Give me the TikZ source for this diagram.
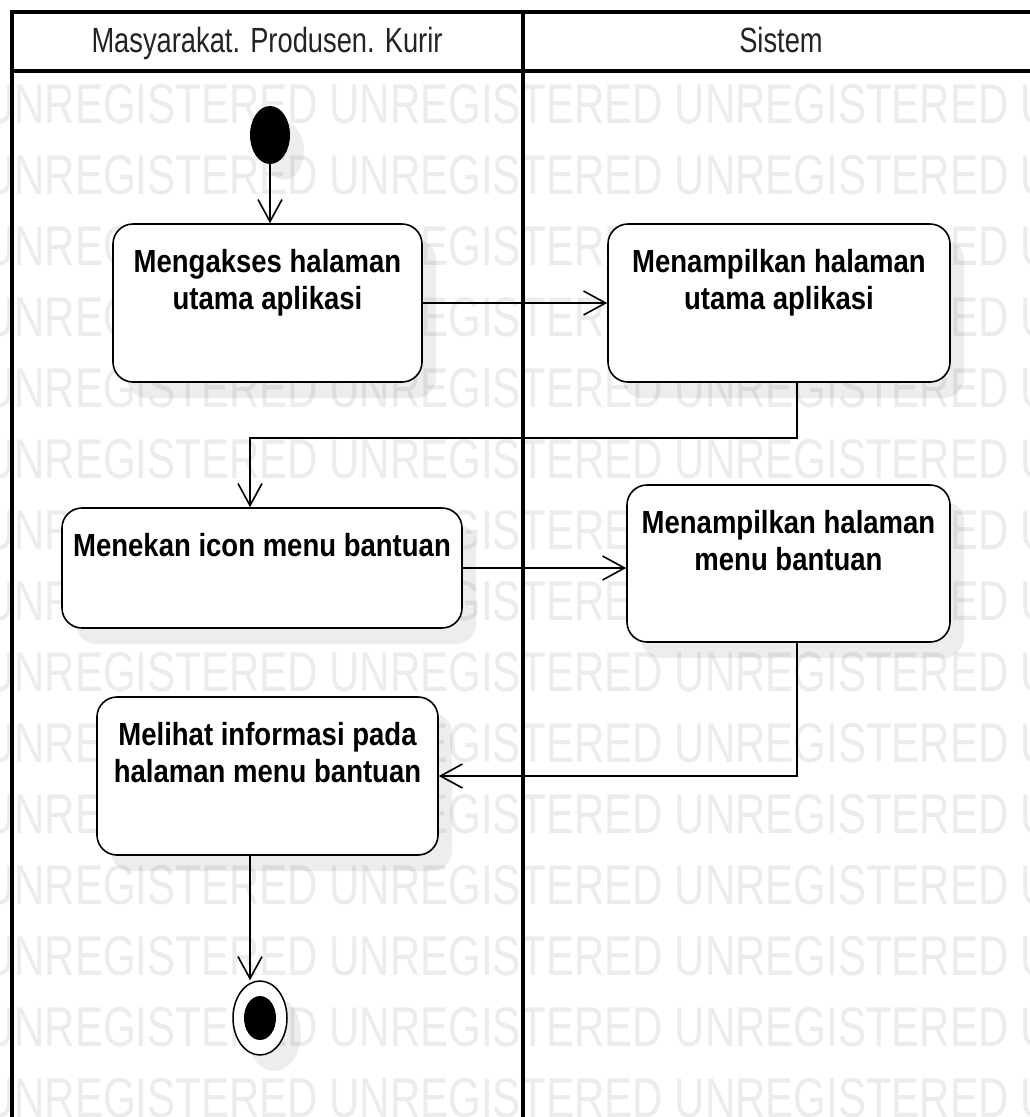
\documentclass[tikz,border=0pt]{standalone}
\usepackage{fontspec}
\setmainfont{Liberation Sans}
\newfontfamily\hdrfont{Liberation Sans}[FakeStretch=0.78]
\newfontfamily\boxfont{Liberation Sans}[FakeStretch=0.86]
\newfontfamily\wmfont{Liberation Sans}[FakeStretch=0.75]
\usetikzlibrary{arrows.meta,shapes.geometric,shadows}
\definecolor{wmgray}{RGB}{236,236,236}
\definecolor{hdrtext}{RGB}{35,35,35}
\begin{document}
\begin{tikzpicture}[x=1pt,y=-1pt,
  softshadow/.style={drop shadow={shadow xshift=14pt, shadow yshift=-16pt, opacity=0.07, fill=black}},
  act/.style={draw=black, line width=1.6pt, fill=white, rounded corners=20pt, inner sep=0pt, softshadow},
  acttext/.style={font=\boxfont\bfseries\fontsize{32}{37}\selectfont, align=center, inner sep=0pt, anchor=north},
  hdr/.style={font=\hdrfont\fontsize{35}{40}\selectfont, text=hdrtext, inner sep=0pt, anchor=base},
  wm/.style={font=\wmfont\fontsize{56}{60}\selectfont, text=wmgray, inner sep=0pt, anchor=base west},
  flow/.style={line width=1.6pt, -{Straight Barb[length=22pt,width=24pt,line width=1.6pt]}},
  frame/.style={line width=4pt, line cap=rect}
]
\useasboundingbox (0,0) rectangle (1030,1117);
\clip (0,0) rectangle (1030,1117);
\fill[white] (0,0) rectangle (1030,1117);

% watermark rows
\foreach \i in {0,...,14}{
  \node[wm] (wm\i) at (-16,{123+71*\i}) {UNREGISTERED UNREGISTERED UNREGISTERED U};
}

% swimlane frame
\fill[white] (12,12) rectangle (1060,71);
\draw[frame] (12,1150) -- (12,12) -- (1060,12);
\draw[frame] (12,71) -- (1060,71);
\draw[frame] (523,12) -- (523,1150);
\node[hdr] (lane1) at (267,52) {Masyarakat. Produsen. Kurir};
\node[hdr] (lane2) at (781,52) {Sistem};

% initial node
\node[ellipse, fill=black, minimum width=40pt, minimum height=58pt, inner sep=0pt, softshadow] (start) at (270,135) {};

% activities
\node[act, minimum width=309pt, minimum height=158pt] (b1) at (267.5,303) {};
\node[acttext] (b1t) at ([yshift=-26pt]b1.north) {Mengakses halaman\\utama aplikasi};

\node[act, minimum width=342pt, minimum height=158pt] (b2) at (779,303) {};
\node[acttext] (b2t) at ([yshift=-26pt]b2.north) {Menampilkan halaman\\utama aplikasi};

\node[act, minimum width=400pt, minimum height=120pt] (b3) at (262,568) {};
\node[acttext] (b3t) at ([yshift=-26pt]b3.north) {Menekan icon menu bantuan};

\node[act, minimum width=323pt, minimum height=157pt] (b4) at (788.5,563.5) {};
\node[acttext] (b4t) at ([yshift=-26pt]b4.north) {Menampilkan halaman\\menu bantuan};

\node[act, minimum width=341pt, minimum height=158pt] (b5) at (267.5,776) {};
\node[acttext] (b5t) at ([yshift=-26pt]b5.north) {Melihat informasi pada\\halaman menu bantuan};

% final node
\node[ellipse, draw=black, line width=1.5pt, fill=white, minimum width=54pt, minimum height=74pt, inner sep=0pt, softshadow] (fin) at (260,1018) {};
\node[ellipse, fill=black, minimum width=32pt, minimum height=44pt, inner sep=0pt] (finin) at (fin.center) {};

% connectors
\draw[flow] (start.south) -- (start.south |- b1.north);
\draw[flow] (b1.east) -- (b2.west);
\coordinate (b3in) at ([xshift=-12pt]b3.north);
\draw[flow] ([xshift=18pt]b2.south) -- ++(0,55) -| (b3in);
\draw[flow] (b3.east) -- (b3.east -| b4.west);
\draw[flow] ([xshift=8.5pt]b4.south) |- (b5.east);
\coordinate (b5out) at ([xshift=-17.5pt]b5.south);
\draw[flow] (b5out) -- (b5out |- fin.north);
\end{tikzpicture}
\end{document}
